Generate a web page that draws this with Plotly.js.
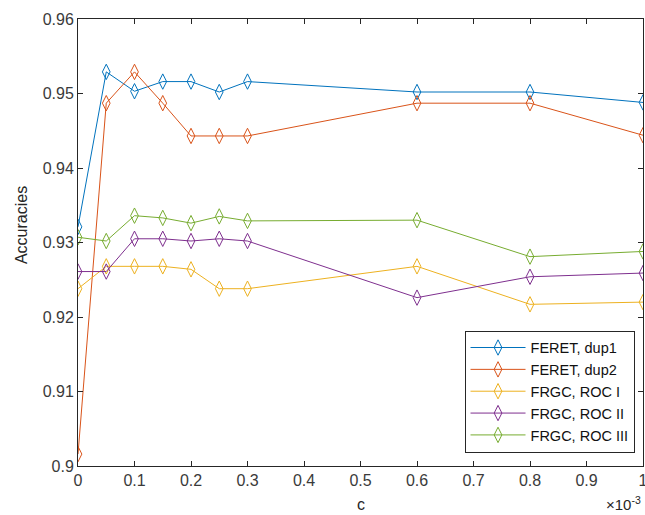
<!DOCTYPE html>
<html>
<head>
<meta charset="utf-8">
<script src="https://cdn.plot.ly/plotly-3.0.1.min.js"></script>
<style>html,body{margin:0;padding:0;background:#fff;}#chart{width:645px;height:515px;}</style>
</head>
<body>
<div id="chart"></div>
<script>
// c values in units of 1e-3
const cVals = [0, 0.05, 0.1, 0.15, 0.2, 0.25, 0.3, 0.6, 0.8, 1.0];
const feretDup1 = [0.9321, 0.9529, 0.9503, 0.9516, 0.9516, 0.9502, 0.9516, 0.9502, 0.9502, 0.9488];
const feretDup2 = [0.9016, 0.9487, 0.9529, 0.9487, 0.9443, 0.9443, 0.9443, 0.9487, 0.9487, 0.9444];
const frgcRoc1 = [0.9238, 0.9268, 0.9268, 0.9268, 0.9264, 0.9238, 0.9238, 0.9268, 0.9217, 0.9220];
const frgcRoc2 = [0.9261, 0.9261, 0.9305, 0.9305, 0.9302, 0.9305, 0.9302, 0.9226, 0.9254, 0.9259];
const frgcRoc3 = [0.9307, 0.9302, 0.9336, 0.9333, 0.9326, 0.9335, 0.9329, 0.9330, 0.9281, 0.9288];
const seriesNames = ["FERET, dup1", "FERET, dup2", "FRGC, ROC I", "FRGC, ROC II", "FRGC, ROC III"];
const xTicks = [0, 0.1, 0.2, 0.3, 0.4, 0.5, 0.6, 0.7, 0.8, 0.9, 1];
const xTickText = ["0", "0.1", "0.2", "0.3", "0.4", "0.5", "0.6", "0.7", "0.8", "0.9", "1"];
const yTicks = [0.9, 0.91, 0.92, 0.93, 0.94, 0.95, 0.96];
const yTickText = ["0.9", "0.91", "0.92", "0.93", "0.94", "0.95", "0.96"];
const xTitle = "c";
const yTitle = "Accuracies";
const xExponent = "×10<sup>-3</sup>";

const colors = ["#0072BD", "#D95319", "#EDB120", "#7E2F8E", "#77AC30"];
const allY = [feretDup1, feretDup2, frgcRoc1, frgcRoc2, frgcRoc3];

const traces = allY.map((ys, i) => ({
  x: cVals, y: ys, name: seriesNames[i], type: "scatter", mode: "lines+markers",
  line: {color: colors[i], width: 1},
  marker: {symbol: "diamond-tall-open", size: 11, color: colors[i], line: {width: 1, color: colors[i]}}
}));

const axisCommon = {
  showline: true, linecolor: "#262626", linewidth: 1, mirror: "ticks",
  ticks: "inside", ticklen: 5, tickcolor: "#262626", showgrid: false, zeroline: false,
  ticklabeloverflow: "allow",
  tickfont: {family: "Liberation Sans, Arial, sans-serif", size: 16, color: "#3a3a3a"}
};

const layout = {
  width: 645, height: 515,
  margin: {l: 78, r: 2, t: 19, b: 49},
  paper_bgcolor: "#fff", plot_bgcolor: "#fff",
  font: {family: "Liberation Sans, Arial, sans-serif", color: "#262626"},
  xaxis: Object.assign({}, axisCommon, {
    range: [0, 1], tickmode: "array", tickvals: xTicks, ticktext: xTickText
  }),
  yaxis: Object.assign({}, axisCommon, {
    range: [0.9, 0.96], tickmode: "array", tickvals: yTicks, ticktext: yTickText
  }),
  showlegend: true,
  legend: {
    x: 0.985, xanchor: "right", y: 0.03, yanchor: "bottom",
    bgcolor: "#fff", bordercolor: "#262626", borderwidth: 1,
    font: {size: 14.5, color: "#111"}, tracegroupgap: 0, itemwidth: 55
  },
  annotations: [
    {xref: "paper", yref: "paper", x: 0.5, y: -0.109, xanchor: "center", yanchor: "bottom",
     text: xTitle, showarrow: false, font: {size: 16, color: "#262626"}},
    {xref: "paper", yref: "paper", x: -0.1009, y: 0.539, xanchor: "center", yanchor: "middle",
     textangle: -90, text: yTitle, showarrow: false, font: {size: 16, color: "#262626"}},
    {xref: "paper", yref: "paper", x: 1.0, y: -0.109, xanchor: "right", yanchor: "bottom",
     text: xExponent, showarrow: false, font: {size: 15, color: "#262626"}}
  ]
};

Plotly.newPlot("chart", traces, layout, {displayModeBar: false, staticPlot: true});
</script>
</body>
</html>
